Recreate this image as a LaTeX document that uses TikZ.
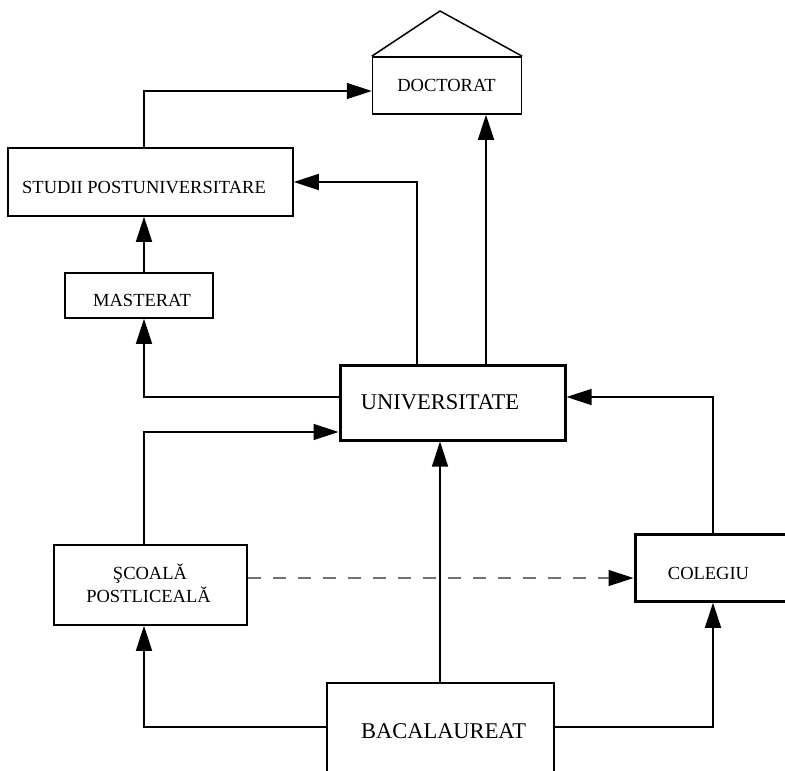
\documentclass[tikz,border=0pt]{standalone}
\usepackage{fontspec}
\setmainfont{Liberation Serif}
\usetikzlibrary{arrows.meta}

\begin{document}
\begin{tikzpicture}[x=1pt,y=-1pt,
  box/.style={draw, line width=1.5pt, inner sep=0pt, minimum width=#1},
  thickbox/.style={draw, line width=3pt, inner sep=0pt},
  lbl/.style={inner sep=0pt, anchor=base, font=\fontsize{18.5}{22}\selectfont},
  biglbl/.style={inner sep=0pt, anchor=base, font=\fontsize{22.5}{26}\selectfont},
  arr/.style={line width=1.5pt, -{Triangle[length=25pt,width=16pt]}},
  dasharr/.style={line width=1.5pt, draw=black!55, dash pattern=on 13pt off 12pt,
    -{Triangle[length=25pt,width=16pt,color=black]}}
]
\useasboundingbox (0,0) rectangle (785,771);
\fill[white] (0,0) rectangle (785,771);
\clip (0,0) rectangle (785,771);

% boxes
\node[box=149pt, minimum height=57pt] (doc) at (447,85.5) {};
\node[box=285pt, minimum height=68pt] (studii) at (150.5,182) {};
\node[box=148pt, minimum height=45pt] (mast) at (139,295.5) {};
\node[thickbox, minimum width=225pt, minimum height=75pt] (univ) at (452.5,402.5) {};
\node[box=193pt, minimum height=80pt] (scoala) at (150.5,585) {};
\node[thickbox, minimum width=180pt, minimum height=66.5pt] (colegiu) at (725,568) {};
\node[box=227pt, minimum height=117pt] (bac) at (440.5,741.5) {};

% roof over the doctorate box
\coordinate (apex) at (440,11);
\draw[line width=1.5pt, line join=miter] (doc.north west) -- (apex) -- (doc.north east);

% labels
\node[lbl] (tdoc) at (446.5,91) {DOCTORAT};
\node[lbl] (tstudii) at (144,193) {STUDII POSTUNIVERSITARE};
\node[lbl] (tmast) at (142,306) {MASTERAT};
\node[biglbl] (tuniv) at (440,409.5) {UNIVERSITATE};
\node[lbl] (tscoala1) at (150,579) {ŞCOALĂ};
\node[lbl] (tscoala2) at (148.5,602) {POSTLICEALĂ};
\node[lbl] (tcolegiu) at (708.5,579) {COLEGIU};
\node[biglbl] (tbac) at (443.5,738.5) {BACALAUREAT};

% routing lines
\coordinate (xL) at (144,0);
\coordinate (xR) at (713,0);
\coordinate (xM) at (440,0);
\coordinate (xD) at (486,0);
\coordinate (xS) at (417,0);
\coordinate (yD) at (0,91);
\coordinate (yS) at (0,182);
\coordinate (yU1) at (0,397);
\coordinate (yU2) at (0,432);
\coordinate (yC) at (0,578);
\coordinate (yB) at (0,727);

% connectors
\draw[arr] (studii.north -| xL) |- (doc.west |- yD);
\draw[arr] (univ.north -| xD) -- (doc.south -| xD);
\draw[arr] (univ.north -| xS) |- (studii.east |- yS);
\draw[arr] (mast.north -| xL) -- (studii.south -| xL);
\draw[arr] (univ.west |- yU1) -| (mast.south -| xL);
\draw[arr] (scoala.north -| xL) |- (univ.west |- yU2);
\draw[arr] (bac.north -| xM) -- (univ.south -| xM);
\draw[arr] (colegiu.north -| xR) |- (univ.east |- yU1);
\draw[arr] (bac.west |- yB) -| (scoala.south -| xL);
\draw[arr] (bac.east |- yB) -| (colegiu.south -| xR);
\draw[dasharr] (scoala.east |- yC) -- (colegiu.west |- yC);
\end{tikzpicture}
\end{document}
